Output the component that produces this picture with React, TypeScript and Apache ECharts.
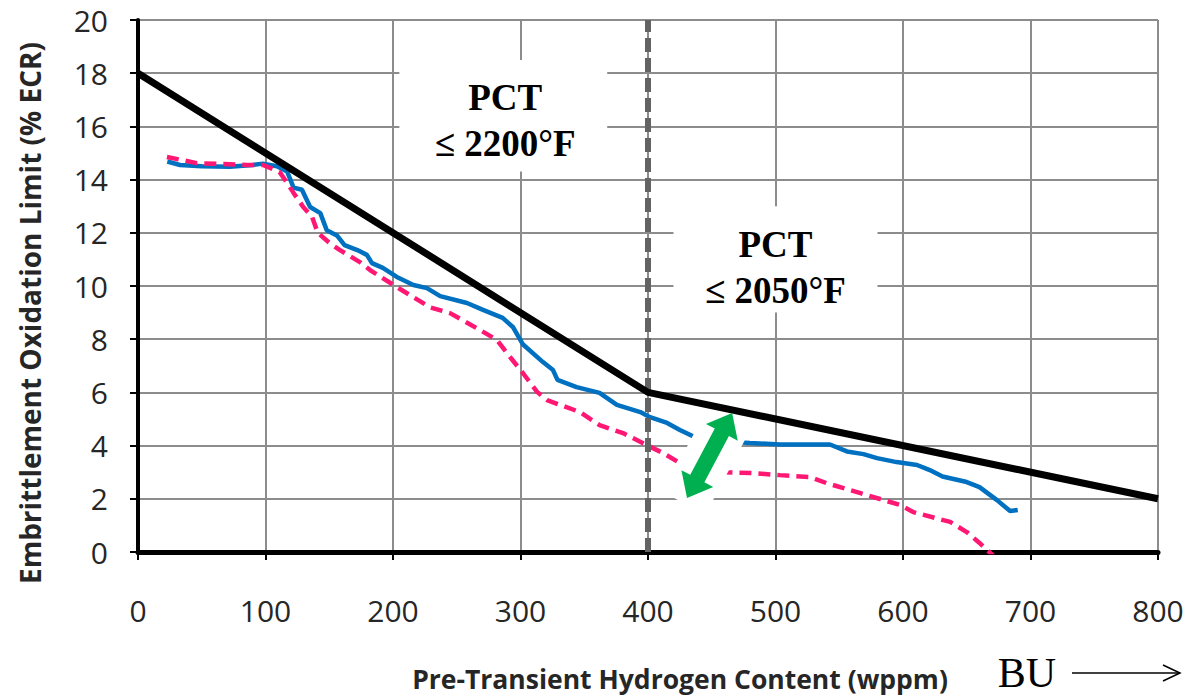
import React, { useEffect, useRef } from "react";
import * as echarts from "echarts";

const xTicks = [0, 100, 200, 300, 400, 500, 600, 700, 800];
const yTicks = [0, 2, 4, 6, 8, 10, 12, 14, 16, 18, 20];

const limitLine: [number, number][] = [
  [0, 18],
  [400, 6],
  [800, 2],
];

const blueCurve: [number, number][] = [
  [23, 14.68], [33, 14.55], [50, 14.5], [72, 14.48], [90, 14.55], [98, 14.6],
  [109, 14.5], [117, 14.3], [122, 13.7], [128.6, 13.62], [135, 12.97],
  [143, 12.74], [148, 12.1], [156, 11.9], [162, 11.54], [172, 11.35],
  [179.5, 11.17], [183.5, 10.86], [192, 10.68], [203, 10.34], [216, 10.04],
  [226.6, 9.92], [237, 9.62], [258, 9.36], [270.6, 9.1], [286, 8.8],
  [294, 8.46], [302, 7.8], [317.6, 7.14], [325.5, 6.84], [329, 6.47],
  [344, 6.2], [362, 5.98], [375.6, 5.53], [394, 5.26], [401.6, 5.07],
  [415, 4.85], [425, 4.59], [435.7, 4.34], [450, 4.22], [465, 4.14],
  [480, 4.1], [503.5, 4.04], [542.7, 4.04], [556, 3.78], [569, 3.68],
  [579.6, 3.53], [595, 3.38], [611, 3.27], [621, 3.08], [631, 2.84],
  [650, 2.63], [660, 2.44], [673.7, 1.95], [684, 1.54], [690, 1.58],
];

const pinkCurve: [number, number][] = [
  [22.7, 14.85], [46, 14.62], [85.5, 14.55], [98, 14.55], [111, 14.29],
  [117, 13.87], [122, 13.5], [129.6, 12.97], [136.5, 12.6], [141, 12.0],
  [150.6, 11.6], [158.4, 11.35], [174, 10.9], [182, 10.6], [203, 9.96],
  [229, 9.2], [244.7, 8.98], [268, 8.35], [281.6, 7.97], [291.8, 7.33],
  [302, 6.72], [313, 6.02], [320.8, 5.71], [346.7, 5.26], [362, 4.77],
  [380.4, 4.47], [399, 4.02], [411.8, 3.72], [427.5, 3.27], [445, 3.1],
  [459, 3.0], [482, 2.97], [503.5, 2.89], [527, 2.82], [540, 2.59],
  [566, 2.22], [597.6, 1.77], [608, 1.5], [637, 1.13], [650, 0.75],
  [660, 0.34], [671, -0.15],
];

const boundaryX = 400;

const regionLabels = [
  { lines: ["PCT", "\u2264 2200\u00b0F"], x: 288, y: 16.24, box: [205, 368, 14.3, 18.5] },
  { lines: ["PCT", "\u2264 2050\u00b0F"], x: 500, y: 10.7, box: [420, 580, 9.0, 13.0] },
];

const arrowEnds: [number, number][] = [
  [430.6, 2.03],
  [466, 5.23],
];

function arrowPoints(a: number[], b: number[], shaft: number, head: number, headLen: number) {
  const dx = b[0] - a[0];
  const dy = b[1] - a[1];
  const len = Math.hypot(dx, dy);
  const ux = dx / len, uy = dy / len;
  const nx = -uy, ny = ux;
  const p = (t: number, s: number) => [a[0] + ux * t + nx * s, a[1] + uy * t + ny * s];
  return [
    p(0, 0),
    p(headLen, head),
    p(headLen, shaft),
    p(len - headLen, shaft),
    p(len - headLen, head),
    p(len, 0),
    p(len - headLen, -head),
    p(len - headLen, -shaft),
    p(headLen, -shaft),
    p(headLen, -head),
  ];
}

function rectAround(a: number[], b: number[], half: number, ext: number) {
  const dx = b[0] - a[0];
  const dy = b[1] - a[1];
  const len = Math.hypot(dx, dy);
  const ux = dx / len, uy = dy / len;
  const nx = -uy, ny = ux;
  const p = (t: number, s: number) => [a[0] + ux * t + nx * s, a[1] + uy * t + ny * s];
  return [p(-ext, -half), p(-ext, half), p(len + ext, half), p(len + ext, -half)];
}

export default function App() {
  const ref = useRef<HTMLDivElement>(null);
  useEffect(() => {
    if (!ref.current) return;
    const chart = echarts.init(ref.current, undefined, { renderer: "svg" });
    const sans = "'Open Sans', sans-serif";
    const serif = "'Liberation Serif', 'Times New Roman', serif";
    chart.setOption({
      animation: false,
      backgroundColor: "#ffffff",
      grid: { left: 138, right: 29, top: 20, bottom: 143, containLabel: false, outerBoundsMode: "none" },
      xAxis: {
        type: "value",
        min: 0,
        max: 800,
        interval: 100,
        name: "Pre-Transient Hydrogen Content (wppm)",
        nameLocation: "middle",
        nameGap: 113,
        nameTextStyle: { fontFamily: sans, fontWeight: "bold", fontSize: 26.5, color: "#262626", padding: [0, 0, 0, 64] },
        axisLine: { show: true, onZero: false, lineStyle: { color: "#000", width: 5 } },
        axisTick: { show: true, length: 8, lineStyle: { color: "#000", width: 2 } },
        axisLabel: { margin: 43, fontFamily: sans, fontSize: 30, color: "#262626", formatter: (v: number) => (xTicks.includes(v) ? String(v) : "") },
        splitLine: { show: true, lineStyle: { color: "#8c8c8c", width: 2 } },
      },
      yAxis: {
        type: "value",
        min: 0,
        max: 20,
        interval: 2,
        name: "Embrittlement Oxidation Limit (% ECR)",
        nameLocation: "middle",
        nameGap: 94,
        nameTextStyle: { fontFamily: sans, fontWeight: "bold", fontSize: 28, color: "#262626", padding: [0, 54, 0, 0] },
        axisLine: { show: true, onZero: false, lineStyle: { color: "#000", width: 4 } },
        axisTick: { show: true, length: 8, lineStyle: { color: "#000", width: 2 } },
        axisLabel: { margin: 30, fontFamily: sans, fontSize: 30, color: "#262626", formatter: (v: number) => (yTicks.includes(v) ? String(v) : "") },
        splitLine: { show: true, lineStyle: { color: "#8c8c8c", width: 2 } },
      },
      series: [
        {
          type: "line",
          data: blueCurve,
          symbol: "none",
          z: 3,
          lineStyle: { color: "#0070C0", width: 4.5 },
        },
        {
          type: "line",
          data: pinkCurve,
          symbol: "none",
          z: 4,
          lineStyle: { color: "#FF1774", width: 4.5, type: [12, 7] },
        },
        {
          type: "line",
          data: [],
          z: 5,
          markLine: {
            silent: true,
            symbol: "none",
            label: { show: false },
            lineStyle: { color: "#636363", width: 6, type: [14, 6] },
            data: [{ xAxis: boundaryX }],
          },
        },
        {
          type: "line",
          data: limitLine,
          symbol: "none",
          z: 7,
          lineStyle: { color: "#000", width: 7 },
        },
      ],
    });

    const toPx = (p: number[]) => chart.convertToPixel({ gridIndex: 0 }, p) as number[];
    const graphics: any[] = [];
    regionLabels.forEach((lab) => {
      const p1 = toPx([lab.box[0], lab.box[3]]);
      const p2 = toPx([lab.box[1], lab.box[2]]);
      graphics.push({
        type: "rect",
        z: 1,
        shape: { x: p1[0], y: p1[1], width: p2[0] - p1[0], height: p2[1] - p1[1] },
        style: { fill: "#ffffff" },
        silent: true,
      });
      const c = toPx([lab.x, lab.y]);
      lab.lines.forEach((t, i) => {
        graphics.push({
          type: "text",
          z: 2,
          x: c[0],
          y: c[1] + (i - 0.5) * 46,
          style: {
            text: t,
            fontFamily: serif,
            fontWeight: "bold",
            fontSize: 37,
            fill: "#000",
            align: "center",
            verticalAlign: "middle",
          },
        });
      });
    });
    const a = toPx(arrowEnds[0]);
    const b = toPx(arrowEnds[1]);
    graphics.push({
      type: "polygon",
      z: 6,
      shape: { points: rectAround(a, b, 24, 6) },
      style: { fill: "#ffffff" },
      silent: true,
    });
    graphics.push({
      type: "polygon",
      z: 21,
      shape: { points: arrowPoints(a, b, 8, 18, 22) },
      style: { fill: "#00B050" },
      silent: true,
    });
    // BU arrow note
    graphics.push({
      type: "text",
      z: 2,
      x: 1027,
      y: 673,
      style: { text: "BU", fontFamily: serif, fontSize: 42, fill: "#000", align: "center", verticalAlign: "middle" },
    });
    graphics.push({
      type: "line",
      z: 2,
      shape: { x1: 1072, y1: 673, x2: 1180, y2: 673 },
      style: { stroke: "#000", lineWidth: 1.5 },
    });
    graphics.push({
      type: "polyline",
      z: 2,
      shape: { points: [[1163, 665], [1180, 673], [1163, 681]] },
      style: { stroke: "#000", lineWidth: 1.5, fill: "none" },
    });
    chart.setOption({ graphic: graphics });

    return () => chart.dispose();
  }, []);
  return <div ref={ref} style={{ position: "fixed", left: 0, top: 0, width: 1187, height: 695 }} />;
}
